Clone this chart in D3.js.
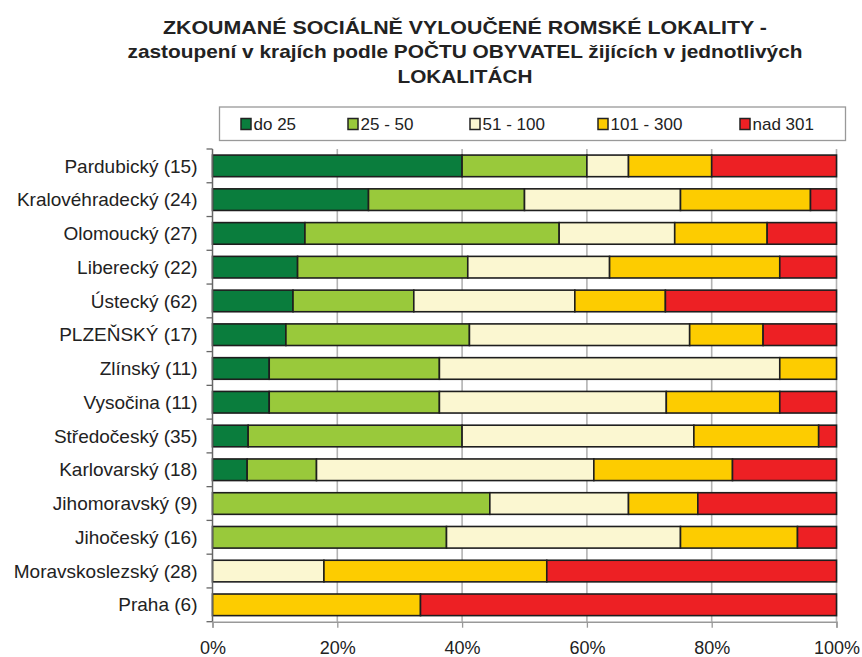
<!DOCTYPE html>
<html>
<head>
<meta charset="utf-8">
<script src="https://cdn.jsdelivr.net/npm/d3@7/dist/d3.min.js"></script>
<style>
  body { margin: 0; background: #fff; }
  text { font-family: "Liberation Sans", Arial, sans-serif; fill: #222; }
</style>
</head>
<body>
<div id="chart"></div>
<script>
// Regions (the number in brackets = count of localities)
const categories = [
  "Pardubický (15)", "Kralovéhradecký (24)", "Olomoucký (27)", "Liberecký (22)",
  "Ústecký (62)", "PLZEŇSKÝ (17)", "Zlínský (11)", "Vysočina (11)",
  "Středočeský (35)", "Karlovarský (18)", "Jihomoravský (9)", "Jihočeský (16)",
  "Moravskoslezský (28)", "Praha (6)"
];
const seriesNames = ["do 25", "25 - 50", "51 - 100", "101 - 300", "nad 301"];

// number of localities per size class
const do25    = [6, 6, 4, 3, 8, 2, 1, 1, 2, 1, 0, 0, 0, 0];
const s25_50  = [3, 6, 11, 6, 12, 5, 3, 3, 12, 2, 4, 6, 0, 0];
const s51_100 = [1, 6, 5, 5, 16, 6, 6, 4, 13, 8, 2, 6, 5, 0];
const s101_300 = [2, 5, 4, 6, 9, 2, 1, 2, 7, 4, 1, 3, 10, 2];
const nad301  = [3, 1, 3, 2, 17, 2, 0, 1, 1, 3, 2, 1, 13, 4];

const tickValues = [0, 0.2, 0.4, 0.6, 0.8, 1];
const colors = ["#0a7d3d", "#99c93b", "#fbf7d1", "#fdcc00", "#ed2024"];

const titleLines = [
  "ZKOUMANÉ SOCIÁLNĚ VYLOUČENÉ ROMSKÉ LOKALITY -",
  "zastoupení v krajích podle POČTU OBYVATEL žijících v jednotlivých",
  "LOKALITÁCH"
];

const W = 862, H = 657;
const margin = {top: 149, right: 25.5, bottom: 35.3, left: 212.5};
const width = W - margin.left - margin.right;
const height = H - margin.top - margin.bottom;

// build table rows for d3.stack
const seriesArrays = [do25, s25_50, s51_100, s101_300, nad301];
const table = categories.map((c, i) => {
  const row = {region: c};
  seriesNames.forEach((s, j) => row[s] = seriesArrays[j][i]);
  return row;
});

const stacked = d3.stack()
  .keys(seriesNames)
  .offset(d3.stackOffsetExpand)(table);

const svg = d3.select("#chart").append("svg")
  .attr("width", W)
  .attr("height", H);

// Title (the original font is a condensed one, so squeeze to the measured widths)
const titleWidths = [604, 675, 135];
svg.append("g").attr("class", "title")
  .selectAll("text")
  .data(titleLines)
  .join("text")
  .attr("x", 465)
  .attr("y", (d, i) => 33.5 + i * 24.5)
  .attr("text-anchor", "middle")
  .attr("font-size", 19)
  .attr("font-weight", "bold")
  .attr("textLength", (d, i) => titleWidths[i])
  .attr("lengthAdjust", "spacingAndGlyphs")
  .text(d => d);

const g = svg.append("g")
  .attr("transform", "translate(" + margin.left + "," + margin.top + ")");

const x = d3.scaleLinear().domain([0, 1]).range([0, width]);
const y = d3.scaleBand().domain(categories).range([0, height])
  .paddingInner(0.36).paddingOuter(0.18);
const color = d3.scaleOrdinal().domain(seriesNames).range(colors);

// gridlines
g.append("g").attr("class", "grid")
  .selectAll("line")
  .data(tickValues.slice(1))
  .join("line")
  .attr("x1", d => x(d)).attr("x2", d => x(d))
  .attr("y1", 0).attr("y2", height)
  .attr("stroke", "#b3b3b3")
  .attr("stroke-width", 1.6);

// bars
g.selectAll(".series")
  .data(stacked)
  .join("g")
  .attr("class", "series")
  .attr("fill", d => color(d.key))
  .selectAll("rect")
  .data(d => d.filter(p => p[1] - p[0] > 0))
  .join("rect")
  .attr("x", d => x(d[0]))
  .attr("y", d => y(d.data.region))
  .attr("width", d => x(d[1]) - x(d[0]))
  .attr("height", y.bandwidth())
  .attr("stroke", "#1e1e1e")
  .attr("stroke-width", 1.6);

// y axis: ticks at band boundaries
const yAxisG = g.append("g").attr("class", "yAxis");
yAxisG.append("line")
  .attr("x1", 0).attr("x2", 0).attr("y1", 0).attr("y2", height)
  .attr("stroke", "#666").attr("stroke-width", 1.5);
yAxisG.selectAll(".tick")
  .data(d3.range(categories.length + 1))
  .join("line")
  .attr("x1", -6).attr("x2", 0)
  .attr("y1", i => i * y.step()).attr("y2", i => i * y.step())
  .attr("stroke", "#666").attr("stroke-width", 1.3);
yAxisG.selectAll(".lab")
  .data(categories)
  .join("text")
  .attr("x", -15)
  .attr("y", d => y(d) + y.bandwidth() / 2)
  .attr("dy", "0.35em")
  .attr("text-anchor", "end")
  .attr("font-size", 19)
  .text(d => d);

// x axis
const xAxis = d3.axisBottom(x)
  .tickValues(tickValues)
  .tickFormat(d3.format(".0%"))
  .tickSize(6)
  .tickPadding(14);
const xAxisG = g.append("g")
  .attr("class", "xAxis")
  .attr("transform", "translate(0," + height + ")")
  .call(xAxis);
xAxisG.select(".domain").attr("stroke", "#999").attr("stroke-width", 1.5);
xAxisG.selectAll(".tick line").attr("stroke", "#999").attr("stroke-width", 1.3);
xAxisG.selectAll(".tick text")
  .attr("font-size", 18)
  .attr("font-family", "Liberation Sans, Arial, sans-serif")
  .attr("fill", "#222");

// legend
const legend = svg.append("g").attr("class", "legend");
legend.append("rect")
  .attr("x", 219.5).attr("y", 107)
  .attr("width", 626).attr("height", 33.5)
  .attr("fill", "#fff")
  .attr("stroke", "#999")
  .attr("stroke-width", 1.3);
const legendX = [241, 348, 470, 598, 740];
const items = legend.selectAll(".item")
  .data(seriesNames)
  .join("g")
  .attr("class", "item")
  .attr("transform", (d, i) => "translate(" + legendX[i] + ",124)");
items.append("rect")
  .attr("x", 0).attr("y", -5.5)
  .attr("width", 10).attr("height", 11)
  .attr("fill", d => color(d))
  .attr("stroke", "#222").attr("stroke-width", 1.5);
items.append("text")
  .attr("x", 12.5)
  .attr("y", 0)
  .attr("dy", "0.36em")
  .attr("font-size", 17)
  .text(d => d);
</script>
</body>
</html>
